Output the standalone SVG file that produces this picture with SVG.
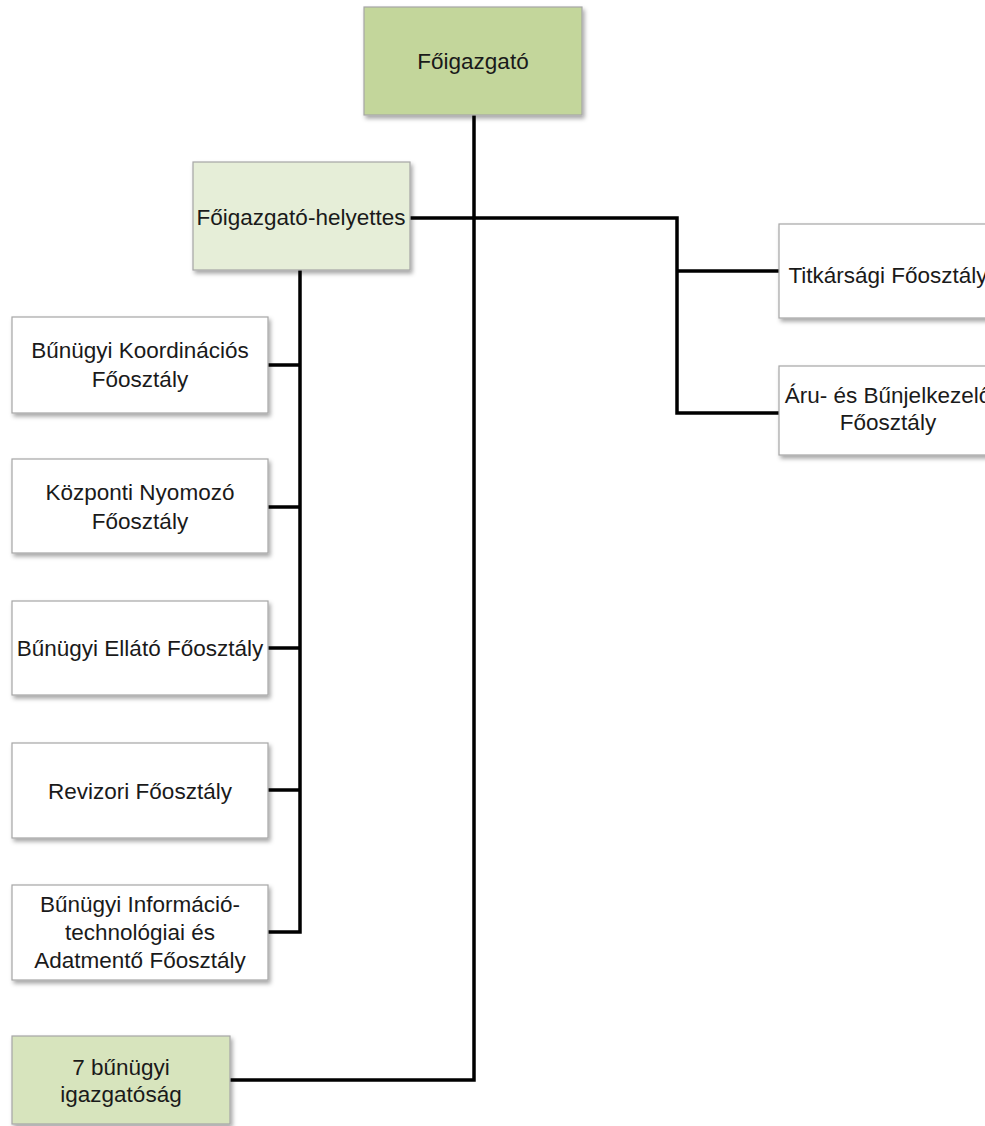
<svg xmlns="http://www.w3.org/2000/svg" width="985" height="1126" viewBox="0 0 985 1126">
<defs>
<filter id="sh" x="-10%" y="-10%" width="130%" height="140%">
<feDropShadow dx="2" dy="3" stdDeviation="2" flood-color="#000" flood-opacity="0.35"/>
</filter>
</defs>
<style>
.box{stroke:#a6a6a6;stroke-width:1.2;filter:url(#sh)}
.w{fill:#ffffff}
.g1{fill:#c3d69b}
.g2{fill:#e6eed8}
.g3{fill:#d7e4bd}
text{font-family:"Liberation Sans",Arial,sans-serif;font-size:22.5px;fill:#1a1a1a;text-anchor:middle}
.c{fill:none;stroke:#000;stroke-width:3.5}
</style>
<rect width="985" height="1126" fill="#fff"/>
<g id="connectors">
<path class="c" d="M474 115 V1080 H230"/>
<path class="c" d="M410 218 H677 V413 H779" stroke-linecap="square"/>
<path class="c" d="M677 271 H779"/>
<path class="c" d="M300 270 V932 H268"/>
<path class="c" d="M268 365 H300 M268 507 H300 M268 648 H300 M268 790 H300"/>
</g>
<g id="foigazgato">
<rect class="box g1" x="364" y="7" width="218" height="108"/>
<text x="473" y="69">Főigazgató</text>
</g>
<g id="helyettes">
<rect class="box g2" x="193" y="162" width="217" height="108"/>
<text x="301" y="225">Főigazgató-helyettes</text>
</g>
<g id="titkarsagi">
<rect class="box w" x="779" y="224" width="218" height="94"/>
<text x="888" y="283">Titkársági Főosztály</text>
</g>
<g id="aru">
<rect class="box w" x="779" y="366" width="218" height="89"/>
<text x="888" y="403">Áru- és Bűnjelkezelő</text>
<text x="888" y="430">Főosztály</text>
</g>
<g id="koordinacios">
<rect class="box w" x="12" y="317" width="256" height="96"/>
<text x="140" y="358">Bűnügyi Koordinációs</text>
<text x="140" y="387">Főosztály</text>
</g>
<g id="nyomozo">
<rect class="box w" x="12" y="459" width="256" height="94"/>
<text x="140" y="500">Központi Nyomozó</text>
<text x="140" y="529">Főosztály</text>
</g>
<g id="ellato">
<rect class="box w" x="12" y="601" width="256" height="94"/>
<text x="140" y="656">Bűnügyi Ellátó Főosztály</text>
</g>
<g id="revizori">
<rect class="box w" x="12" y="743" width="256" height="95"/>
<text x="140" y="799">Revizori Főosztály</text>
</g>
<g id="informacio">
<rect class="box w" x="12" y="885" width="256" height="95"/>
<text x="140" y="912">Bűnügyi Információ-</text>
<text x="140" y="940">technológiai és</text>
<text x="140" y="968">Adatmentő Főosztály</text>
</g>
<g id="igazgatosag">
<rect class="box g3" x="12" y="1036" width="218" height="88"/>
<text x="121" y="1075">7 bűnügyi</text>
<text x="121" y="1102">igazgatóság</text>
</g>
</svg>
